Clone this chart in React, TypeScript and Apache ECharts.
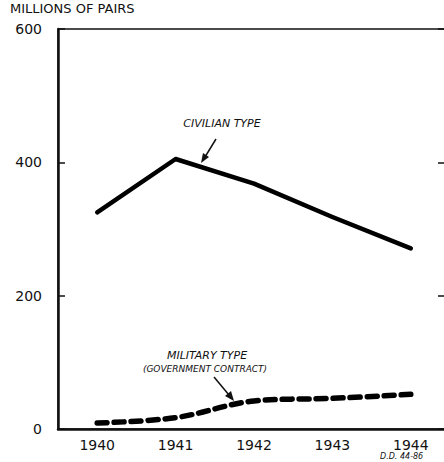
import React, { useEffect, useRef } from "react";
import * as echarts from "echarts";

const years = ["1940", "1941", "1942", "1943", "1944"];
const civilian = [325, 405, 368, 318, 271];
const military = [9, 17, 42, 46, 52];
const yTicks = [0, 200, 400, 600];

const FONT = "DejaVu Sans";

export default function App() {
  const ref = useRef<HTMLDivElement>(null);
  useEffect(() => {
    document.body.style.margin = "0";
    const chart = echarts.init(ref.current!, null, { renderer: "svg" });
    chart.setOption({
      animation: false,
      backgroundColor: "#ffffff",
      grid: {
        left: 58,
        top: 29,
        width: 392,
        bottom: 33,
        outerBoundsMode: "none",
        containLabel: false,
        show: true,
        borderColor: "#111",
        borderWidth: 1.5,
      },
      xAxis: {
        type: "category",
        data: years,
        boundaryGap: true,
        axisLine: { lineStyle: { color: "#111", width: 2.5 } },
        axisTick: { inside: true, length: 14, lineStyle: { color: "#111", width: 1.5 } },
        axisLabel: { color: "#111", fontFamily: FONT, fontSize: 14, margin: 9 },
        splitLine: { show: false },
      },
      yAxis: [
        {
          type: "value",
          min: yTicks[0],
          max: yTicks[yTicks.length - 1],
          interval: 200,
          axisLine: { show: true, lineStyle: { color: "#111", width: 2.5 } },
          axisTick: { show: true, inside: true, length: 7, lineStyle: { color: "#111", width: 1.5 } },
          axisLabel: { color: "#111", fontFamily: FONT, fontSize: 14, margin: 16 },
          splitLine: { show: false },
        },
        {
          type: "value",
          position: "right",
          min: yTicks[0],
          max: yTicks[yTicks.length - 1],
          interval: 200,
          axisLine: { show: true, lineStyle: { color: "#111", width: 2 } },
          axisTick: { show: true, inside: true, length: 12, lineStyle: { color: "#111", width: 1.5 } },
          axisLabel: { show: false },
          splitLine: { show: false },
        },
      ],
      series: [
        {
          name: "CIVILIAN TYPE",
          type: "line",
          data: civilian,
          symbol: "none",
          lineStyle: { color: "#000", width: 4.5, cap: "round", join: "round" },
        },
        {
          name: "MILITARY TYPE",
          type: "line",
          data: military,
          symbol: "none",
          smooth: 0.35,
          lineStyle: { color: "#000", width: 5.5, type: [10, 7], cap: "round" },
        },
      ],
      graphic: [
        {
          type: "text",
          left: 10,
          top: 2,
          style: { text: "MILLIONS OF PAIRS", font: `13px ${FONT}`, fill: "#111" },
        },
        {
          type: "text",
          x: 222,
          y: 123,
          style: {
            text: "CIVILIAN TYPE",
            font: `italic 11px ${FONT}`,
            fill: "#111",
            align: "center",
            verticalAlign: "middle",
          },
        },
        {
          type: "line",
          shape: { x1: 216, y1: 139, x2: 205, y2: 157 },
          style: { stroke: "#111", lineWidth: 1.5 },
        },
        {
          type: "polygon",
          shape: { points: [[201, 163], [203, 153], [209, 157]] },
          style: { fill: "#111" },
        },
        {
          type: "text",
          x: 207,
          y: 355,
          style: {
            text: "MILITARY TYPE",
            font: `italic 11px ${FONT}`,
            fill: "#111",
            align: "center",
            verticalAlign: "middle",
          },
        },
        {
          type: "text",
          x: 205,
          y: 369,
          style: {
            text: "(GOVERNMENT CONTRACT)",
            font: `italic 9px ${FONT}`,
            fill: "#111",
            align: "center",
            verticalAlign: "middle",
          },
        },
        {
          type: "line",
          shape: { x1: 214, y1: 377, x2: 229, y2: 395 },
          style: { stroke: "#111", lineWidth: 1.5 },
        },
        {
          type: "polygon",
          shape: { points: [[234, 401], [225, 396], [231, 391]] },
          style: { fill: "#111" },
        },
        {
          type: "text",
          x: 380,
          y: 452,
          style: { text: "D.D. 44-86", font: `italic 8px ${FONT}`, fill: "#111" },
        },
      ],
    });
    return () => chart.dispose();
  }, []);
  return <div ref={ref} style={{ width: 444, height: 462 }} />;
}
